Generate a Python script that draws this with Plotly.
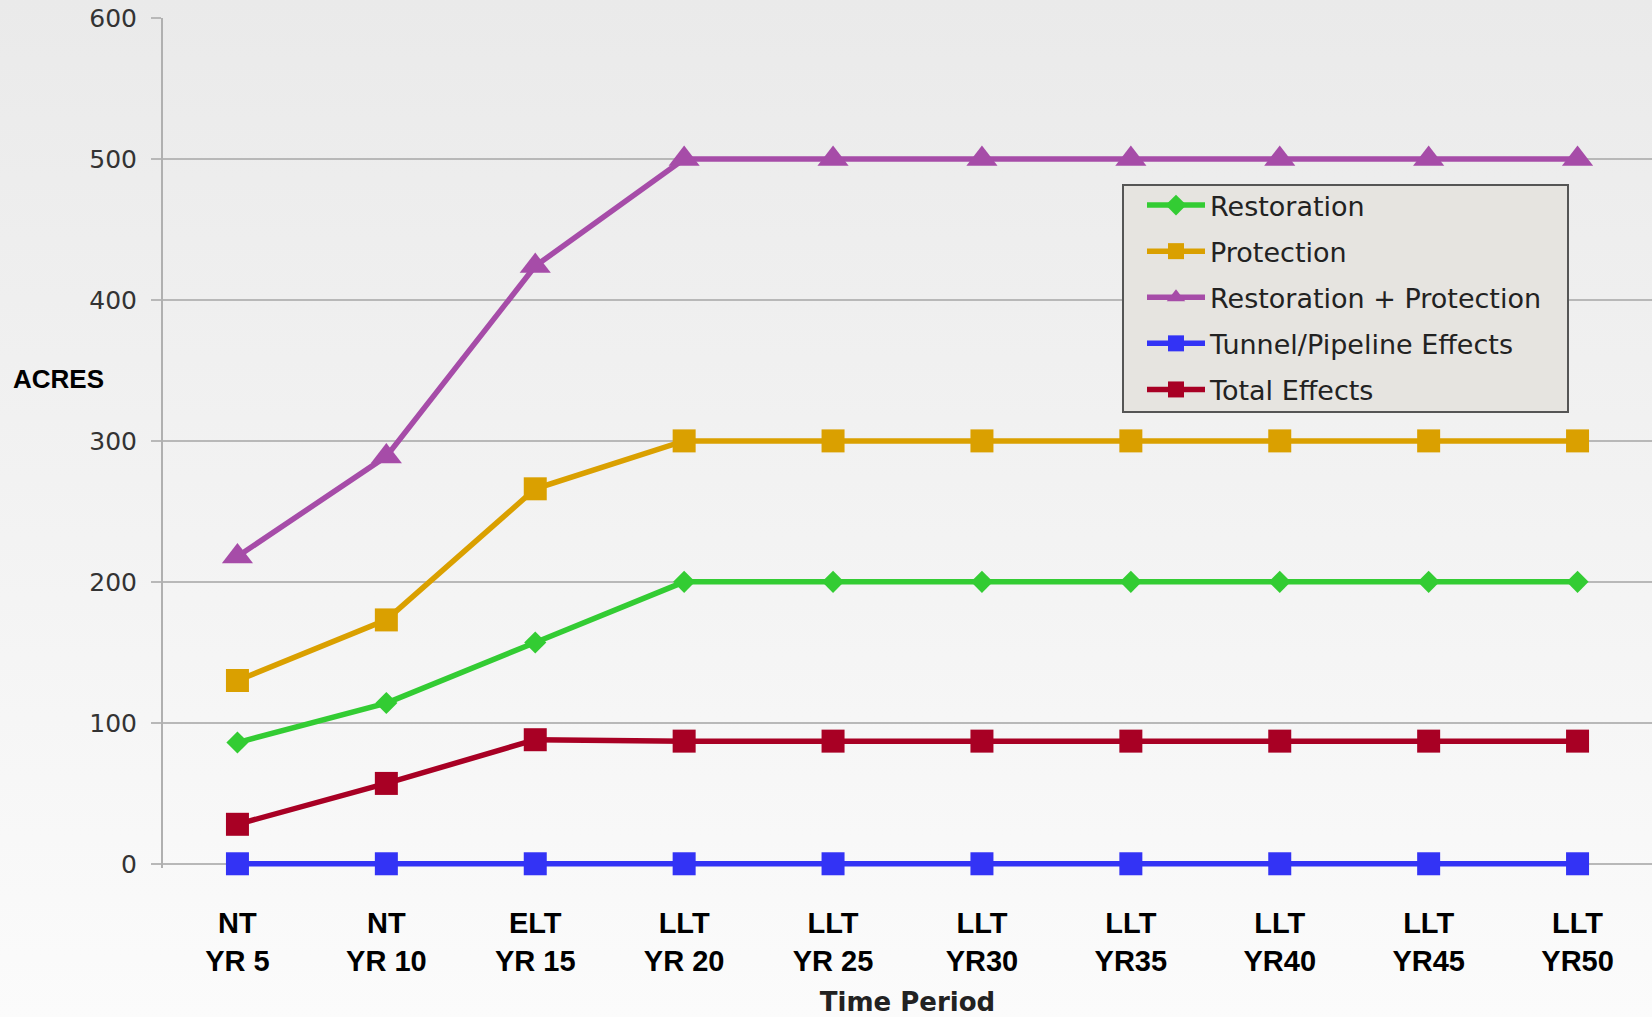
import base64
import plotly.graph_objects as go

# Data
periods = ["NT<br>YR 5", "NT<br>YR 10", "ELT<br>YR 15", "LLT<br>YR 20", "LLT<br>YR 25",
           "LLT<br>YR30", "LLT<br>YR35", "LLT<br>YR40", "LLT<br>YR45", "LLT<br>YR50"]
restoration = [86, 114, 157, 200, 200, 200, 200, 200, 200, 200]
protection = [130, 173, 266, 300, 300, 300, 300, 300, 300, 300]
restoration_protection = [218, 289, 424, 500, 500, 500, 500, 500, 500, 500]
tunnel_pipeline = [0, 0, 0, 0, 0, 0, 0, 0, 0, 0]
total_effects = [28, 57, 88, 87, 87, 87, 87, 87, 87, 87]

series = [
    ("Restoration", restoration, "#33CC33", "diamond", 17),
    ("Protection", protection, "#DAA000", "square", 23),
    ("Restoration + Protection", restoration_protection, "#A64CA8", "triangle-up", 27),
    ("Tunnel/Pipeline Effects", tunnel_pipeline, "#3333F5", "square", 23),
    ("Total Effects", total_effects, "#A80024", "square", 23),
]

W, H = 1652, 1017
L, R, T, B = 163, 0, 18, 149
pw, ph = W - L - R, H - T - B


def px_x(px):
    return (px - L) / pw


def px_y(py):
    return (H - B - py) / ph


fig = go.Figure()

for i, (name, vals, color, symbol, size) in enumerate(series):
    fig.add_trace(go.Scatter(
        x=periods,
        y=vals,
        name=name,
        mode="lines+markers",
        line=dict(color=color, width=5.5),
        marker=dict(symbol=symbol, size=size, color=color),
        legendgroup=f"g{i}",
        cliponaxis=False,
    ))

# soft vertical gradient for the background
svg = ('<svg xmlns="http://www.w3.org/2000/svg" width="10" height="100" preserveAspectRatio="none">'
       '<defs><linearGradient id="g" x1="0" y1="0" x2="0" y2="1">'
       '<stop offset="0" stop-color="#EAEAEA"/><stop offset="1" stop-color="#FBFBFB"/>'
       '</linearGradient></defs><rect width="10" height="100" fill="url(#g)"/></svg>')
bg_src = "data:image/svg+xml;base64," + base64.b64encode(svg.encode()).decode()

fig.update_layout(
    width=W,
    height=H,
    margin=dict(l=L, r=R, t=T, b=B),
    paper_bgcolor="#F3F3F3",
    plot_bgcolor="rgba(0,0,0,0)",
    images=[dict(source=bg_src, xref="paper", yref="paper", x=px_x(0), y=px_y(0),
                 sizex=W / pw, sizey=H / ph, sizing="stretch",
                 xanchor="left", yanchor="top", layer="below")],
    # legend box drawn as a shape so its padding can match
    shapes=[dict(type="rect", xref="paper", yref="paper",
                 x0=px_x(1123), x1=px_x(1568), y0=px_y(412), y1=px_y(185),
                 fillcolor="#E6E4E0", line=dict(color="#555555", width=2), layer="above")],
    showlegend=True,
    legend=dict(
        x=px_x(1142), y=px_y(181), xanchor="left", yanchor="top",
        bgcolor="rgba(0,0,0,0)", borderwidth=0,
        font=dict(family="Verdana, DejaVu Sans", size=27, color="#222222"),
        traceorder="grouped", tracegroupgap=8, itemwidth=58,
    ),
    xaxis=dict(
        type="category",
        range=[-0.5, 9.5],
        showgrid=False,
        showline=False,
        zeroline=False,
        ticks="",
        ticklabelstandoff=35,
        tickfont=dict(family="Liberation Sans, Arial", size=29, color="#000000", weight="bold"),
        title=dict(text="<b>Time Period</b>", standoff=17,
                   font=dict(family="DejaVu Sans, Verdana", size=26, color="#222222")),
    ),
    yaxis=dict(
        range=[-3, 600],
        tickvals=[0, 100, 200, 300, 400, 500, 600],
        showgrid=True,
        gridcolor="#B8B8B8",
        gridwidth=2,
        zeroline=False,
        showline=True,
        linecolor="#B0B0B0",
        linewidth=2,
        ticks="outside",
        ticklen=10,
        tickwidth=2,
        tickcolor="#B8B8B8",
        ticklabelstandoff=9,
        tickfont=dict(family="Verdana, DejaVu Sans", size=25, color="#333333"),
    ),
    annotations=[dict(text="<b>ACRES</b>", xref="paper", yref="paper", x=px_x(11), y=px_y(379),
                      xanchor="left", yanchor="middle", showarrow=False,
                      font=dict(family="Liberation Sans, Arial", size=26, color="#000000"))],
)

fig.write_html("out.html", config={"displayModeBar": False},
               post_script="document.body.style.margin='0';")
